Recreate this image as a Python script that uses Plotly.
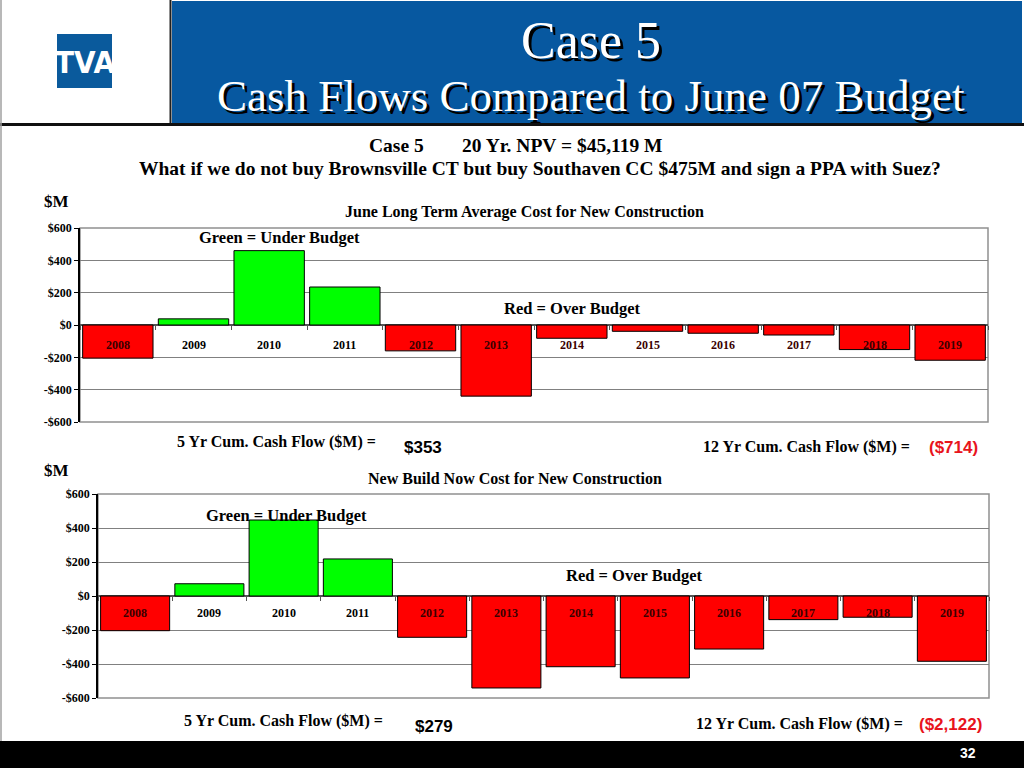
import plotly.graph_objects as go

years = ["2008", "2009", "2010", "2011", "2012", "2013", "2014", "2015", "2016", "2017", "2018", "2019"]
june_lt_avg = [-205, 38, 460, 235, -160, -440, -82, -39, -51, -62, -152, -218]
new_build_now = [-204, 72, 447, 218, -243, -541, -416, -482, -312, -139, -125, -384]
ytick_vals = [-600, -400, -200, 0, 200, 400, 600]
ytick_text = ["-$600", "-$400", "-$200", "$0", "$200", "$400", "$600"]

W, H = 1024, 768
GREEN = "#00FF00"
RED = "#FF0000"
SERIF = "Liberation Serif"
SANS = "Liberation Sans"


def px(x):
    return x / W


def py(y):
    return 1 - y / H


fig = go.Figure()

for vals, xa, ya in [(june_lt_avg, "x", "y"), (new_build_now, "x2", "y2")]:
    fig.add_trace(go.Bar(
        x=years, y=vals, xaxis=xa, yaxis=ya,
        marker=dict(color=[GREEN if v >= 0 else RED for v in vals],
                    line=dict(color="#000000", width=1)),
        hoverinfo="x+y", showlegend=False,
    ))

charts = [
    dict(x0=80, x1=988, y0=228, y1=422, xa="x", ya="y", suffix="", lab_shift=-12),
    dict(x0=98, x1=989, y0=494, y1=698, xa="x2", ya="y2", suffix="2", lab_shift=-9),
]

layout_axes = {}
shapes = []
annotations = []

for c in charts:
    s = c["suffix"]
    ymid = (py(c["y0"]) + py(c["y1"])) / 2
    layout_axes["xaxis" + s] = dict(
        domain=[px(c["x0"]), px(c["x1"])], anchor="free", position=ymid,
        type="category", range=[-0.5, len(years) - 0.5], autorange=False,
        showticklabels=False, tickson="boundaries",
        ticks="outside", ticklen=4, tickcolor="#555555", showgrid=False,
        showline=False, zeroline=False, fixedrange=True,
    )
    layout_axes["yaxis" + s] = dict(
        domain=[py(c["y1"]), py(c["y0"])], anchor="x" + s if s else "x",
        range=[-600, 600], autorange=False, tickvals=ytick_vals,
        ticktext=["<b>%s</b>" % t for t in ytick_text],
        tickfont=dict(family=SERIF, size=12, color="#000000"),
        showgrid=True, gridcolor="#808080", gridwidth=1,
        zeroline=True, zerolinecolor="#555555", zerolinewidth=1.5,
        showline=True, linecolor="#000000", linewidth=1.5,
        ticks="outside", ticklen=4, tickcolor="#000000", fixedrange=True,
    )
    shapes.append(dict(type="rect", xref=c["xa"] + " domain", yref=c["ya"] + " domain",
                       x0=0, x1=1, y0=0, y1=1, line=dict(color="#909090", width=1.5),
                       layer="below"))

# category labels just under the zero line
for vals, c in [(june_lt_avg, charts[0]), (new_build_now, charts[1])]:
    for i, (yr, v) in enumerate(zip(years, vals)):
        annotations.append(dict(
            x=i, y=0, xref=c["xa"], yref=c["ya"], yanchor="middle", yshift=c["lab_shift"] - 8,
            text="<b>%s</b>" % yr, showarrow=False,
            font=dict(family=SERIF, size=12, color="#3a0000" if v < 0 else "#000000"),
        ))

# header shapes
shapes += [
    dict(type="rect", xref="paper", yref="paper", x0=px(172), x1=px(1022), y0=py(123), y1=py(1),
         fillcolor="#0758A0", line=dict(width=0), layer="below"),
    dict(type="line", xref="paper", yref="paper", x0=px(170.5), x1=px(170.5), y0=py(123), y1=1,
         line=dict(color="#202020", width=2)),
    dict(type="rect", xref="paper", yref="paper", x0=0, x1=1, y0=py(126), y1=py(123),
         fillcolor="#101010", line=dict(width=0)),
    dict(type="rect", xref="paper", yref="paper", x0=px(57), x1=px(112), y0=py(88), y1=py(34),
         fillcolor="#0A5A9C", line=dict(width=0)),
    dict(type="line", xref="paper", yref="paper", x0=px(1), x1=px(1), y0=py(741), y1=1,
         line=dict(color="#a0a0a0", width=1.5)),
    dict(type="rect", xref="paper", yref="paper", x0=0, x1=1, y0=0, y1=py(741),
         fillcolor="#000000", line=dict(width=0)),
]


def ptext(x, y, text, size, family=SERIF, color="#000000", xanchor="center", yanchor="middle", bold=True):
    t = "<b>%s</b>" % text if bold else text
    return dict(x=px(x), y=py(y), xref="paper", yref="paper", text=t, showarrow=False,
                xanchor=xanchor, yanchor=yanchor, font=dict(family=family, size=size, color=color))


# logo
annotations.append(ptext(85, 62, "TVA", 31, family="DejaVu Sans Condensed", color="#FFFFFF"))

# title with drop shadow
for dx, col in [(3, "#000000"), (0, "#FFFFFF")]:
    annotations.append(ptext(591 + dx, 40 + dx, "Case 5", 52, color=col, bold=False))
    annotations.append(ptext(591 + dx, 96 + dx, "Cash Flows Compared to June 07 Budget", 45, color=col, bold=False))

annotations += [
    ptext(367, 145, "Case 5", 19.5, xanchor="left"),
    ptext(460, 145, "20 Yr. NPV = $45,119 M", 19.5, xanchor="left"),
    ptext(540, 168, "What if we do not buy Brownsville CT but buy Southaven CC $475M and sign a PPA with Suez?", 19.5),
    # top chart
    ptext(42, 202, "$M", 17, xanchor="left"),
    ptext(524, 212, "June Long Term Average Cost for New Construction", 16),
    ptext(279, 238, "Green = Under Budget", 16.5),
    ptext(572, 308, "Red = Over Budget", 16.5),
    ptext(378, 442, "5 Yr Cum. Cash Flow ($M) =", 16, xanchor="right"),
    ptext(402, 447, "$353", 17, family=SANS, xanchor="left"),
    ptext(912, 447, "12 Yr Cum. Cash Flow ($M) =", 16, xanchor="right"),
    ptext(980, 447, "($714)", 17, family=SANS, color="#E8141C", xanchor="right"),
    # bottom chart
    ptext(42, 470, "$M", 17, xanchor="left"),
    ptext(515, 478, "New Build Now Cost for New Construction", 16),
    ptext(286, 515, "Green = Under Budget", 16.5),
    ptext(634, 575, "Red = Over Budget", 16.5),
    ptext(385, 721, "5 Yr Cum. Cash Flow ($M) =", 16, xanchor="right"),
    ptext(413, 726, "$279", 17, family=SANS, xanchor="left"),
    ptext(905, 724, "12 Yr Cum. Cash Flow ($M) =", 16, xanchor="right"),
    ptext(984, 724, "($2,122)", 17, family=SANS, color="#E8141C", xanchor="right"),
    ptext(978, 753, "32", 14, family=SANS, color="#FFFFFF", xanchor="right"),
]

fig.update_layout(
    width=W, height=H, margin=dict(l=0, r=0, t=0, b=0, autoexpand=False),
    paper_bgcolor="#FFFFFF", plot_bgcolor="rgba(0,0,0,0)",
    bargap=0.07, barmode="relative",
    shapes=shapes, annotations=annotations, showlegend=False,
    **layout_axes,
)

post = (
    "document.body.style.margin='0';"
    "document.body.style.overflow='hidden';"
)
fig.write_html("out.html", post_script=post, config={"displayModeBar": False})
